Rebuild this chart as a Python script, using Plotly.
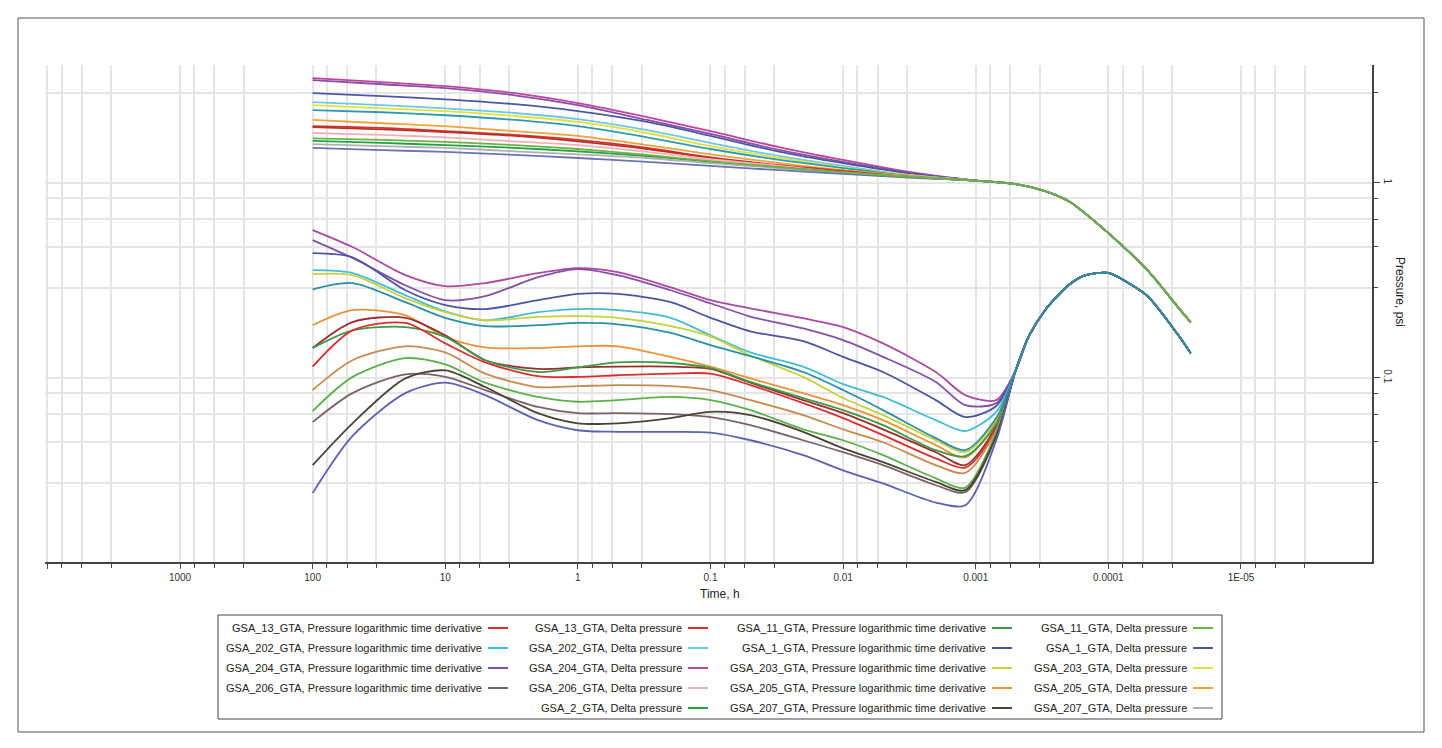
import plotly.graph_objects as go

# ---------------- data (time in h, pressure in psi) ----------------
T_DELTA = [100, 30, 10, 3, 1, 0.3, 0.1, 0.03, 0.01, 0.003]
T_DELTA_TAIL = [0.001, 0.0005, 0.0003, 0.0002, 0.0001, 5e-5, 3e-5, 2.4e-5]
DELTA_TAIL = [1.026, 0.985, 0.907, 0.806, 0.552, 0.352, 0.231, 0.193]

T_DERIV = [100, 50, 20, 10, 5, 2, 1, 0.5, 0.2, 0.1, 0.05, 0.02, 0.01, 0.005, 0.002, 0.0012, 0.0007]
T_DERIV_TAIL = [0.0005, 0.0004, 0.0003, 0.0002, 0.00015, 0.0001, 7e-5, 5e-5, 3e-5, 2.4e-5]
DERIV_TAIL = [0.109, 0.162, 0.222, 0.298, 0.335, 0.345, 0.305, 0.26, 0.167, 0.134]

# Delta pressure (upper family)
DP_GSA_204 = [3.44, 3.28, 3.13, 2.88, 2.56, 2.17, 1.84, 1.52, 1.31, 1.13]
DP_EXTRA_PURPLE = [3.36, 3.2, 3.06, 2.81, 2.5, 2.1, 1.78, 1.47, 1.28, 1.12]
DP_GSA_1 = [2.88, 2.78, 2.68, 2.53, 2.33, 2.05, 1.74, 1.44, 1.26, 1.11]
DP_GSA_202 = [2.59, 2.5, 2.41, 2.28, 2.12, 1.86, 1.6, 1.37, 1.22, 1.09]
DP_GSA_203 = [2.5, 2.41, 2.33, 2.2, 2.05, 1.8, 1.54, 1.34, 1.2, 1.09]
DP_EXTRA_TEAL = [2.36, 2.3, 2.22, 2.1, 1.95, 1.71, 1.49, 1.31, 1.19, 1.08]
DP_GSA_205 = [2.1, 2.02, 1.95, 1.84, 1.74, 1.56, 1.4, 1.26, 1.16, 1.08]
DP_GSA_13 = [1.95, 1.91, 1.84, 1.76, 1.66, 1.51, 1.35, 1.23, 1.15, 1.07]
DP_EXTRA_DARKRED = [1.93, 1.88, 1.82, 1.74, 1.63, 1.49, 1.34, 1.22, 1.13, 1.07]
DP_GSA_206 = [1.8, 1.76, 1.71, 1.63, 1.56, 1.44, 1.32, 1.22, 1.13, 1.07]
DP_GSA_11 = [1.69, 1.66, 1.62, 1.56, 1.49, 1.39, 1.29, 1.2, 1.13, 1.07]
DP_GSA_2 = [1.64, 1.6, 1.56, 1.51, 1.45, 1.37, 1.28, 1.2, 1.13, 1.07]
DP_GSA_207 = [1.58, 1.54, 1.51, 1.45, 1.4, 1.34, 1.26, 1.19, 1.12, 1.07]
DP_EXTRA_SLATE = [1.51, 1.47, 1.44, 1.39, 1.34, 1.28, 1.22, 1.16, 1.11, 1.06]

# Pressure logarithmic time derivative (lower family)
DV_EXTRA_MAGENTA = [0.572, 0.468, 0.336, 0.295, 0.306, 0.344, 0.365, 0.348, 0.291, 0.25, 0.227, 0.202, 0.182, 0.150, 0.107, 0.0815, 0.0768]
DV_GSA_204 = [0.508, 0.411, 0.298, 0.25, 0.262, 0.328, 0.361, 0.336, 0.281, 0.241, 0.206, 0.179, 0.156, 0.128, 0.0952, 0.0724, 0.0741]
DV_GSA_1 = [0.436, 0.415, 0.281, 0.236, 0.225, 0.25, 0.269, 0.269, 0.244, 0.203, 0.173, 0.154, 0.128, 0.107, 0.0768, 0.0628, 0.0716]
DV_GSA_202 = [0.356, 0.344, 0.265, 0.219, 0.197, 0.217, 0.225, 0.222, 0.203, 0.165, 0.135, 0.114, 0.0928, 0.0797, 0.0606, 0.0533, 0.0669]
DV_GSA_203 = [0.34, 0.336, 0.256, 0.217, 0.197, 0.205, 0.207, 0.203, 0.184, 0.163, 0.13, 0.101, 0.0787, 0.0643, 0.0478, 0.0415, 0.0606]
DV_EXTRA_TEAL = [0.284, 0.306, 0.244, 0.203, 0.184, 0.186, 0.191, 0.188, 0.17, 0.147, 0.129, 0.107, 0.0865, 0.0682, 0.049, 0.0425, 0.0621]
DV_GSA_205 = [0.186, 0.222, 0.209, 0.162, 0.143, 0.142, 0.145, 0.145, 0.128, 0.114, 0.0992, 0.0834, 0.0724, 0.0606, 0.0451, 0.039, 0.0592]
DV_EXTRA_DARKRED = [0.142, 0.193, 0.203, 0.165, 0.123, 0.111, 0.113, 0.114, 0.114, 0.111, 0.0943, 0.0768, 0.0658, 0.0544, 0.0415, 0.0356, 0.0565]
DV_GSA_11 = [0.142, 0.175, 0.182, 0.162, 0.123, 0.107, 0.113, 0.12, 0.119, 0.112, 0.0952, 0.0787, 0.0682, 0.0571, 0.0425, 0.0396, 0.0578]
DV_GSA_13 = [0.114, 0.175, 0.191, 0.15, 0.12, 0.102, 0.101, 0.103, 0.105, 0.105, 0.0917, 0.0741, 0.0621, 0.0508, 0.0386, 0.0346, 0.0544]
DV_EXTRA_TAN = [0.0865, 0.123, 0.145, 0.135, 0.105, 0.0896, 0.0906, 0.0917, 0.0906, 0.0865, 0.0768, 0.0643, 0.0544, 0.0467, 0.0356, 0.0325, 0.0538]
DV_EXTRA_GREEN = [0.0675, 0.101, 0.126, 0.117, 0.0943, 0.0797, 0.0753, 0.0768, 0.0797, 0.0768, 0.0682, 0.0544, 0.0478, 0.0401, 0.0305, 0.0273, 0.0523]
DV_GSA_206 = [0.0592, 0.0834, 0.104, 0.101, 0.0865, 0.0708, 0.0658, 0.0658, 0.065, 0.0628, 0.0571, 0.0478, 0.0415, 0.0356, 0.0281, 0.0259, 0.0503]
DV_GSA_207 = [0.0356, 0.0584, 0.0992, 0.109, 0.0896, 0.0658, 0.0584, 0.0584, 0.0621, 0.0669, 0.0643, 0.0528, 0.0434, 0.0369, 0.0292, 0.0265, 0.0503]
DV_EXTRA_BLUE = [0.0256, 0.0503, 0.0834, 0.0943, 0.0815, 0.0606, 0.0538, 0.0528, 0.0528, 0.0523, 0.0478, 0.0401, 0.0335, 0.0287, 0.0229, 0.0222, 0.0478]

# drawing order (last drawn shows on the shared tail)
DELTA_SERIES = [
    ("GSA_204_GTA, Delta pressure", "#c0449e", DP_GSA_204),
    (None, "#8a4ea6", DP_EXTRA_PURPLE),
    ("GSA_1_GTA, Delta pressure", "#4a58a6", DP_GSA_1),
    ("GSA_202_GTA, Delta pressure", "#6cc8e8", DP_GSA_202),
    ("GSA_203_GTA, Delta pressure", "#e2e03a", DP_GSA_203),
    (None, "#2e9cb0", DP_EXTRA_TEAL),
    ("GSA_205_GTA, Delta pressure", "#f2a238", DP_GSA_205),
    ("GSA_13_GTA, Delta pressure", "#dc3030", DP_GSA_13),
    (None, "#b83428", DP_EXTRA_DARKRED),
    ("GSA_206_GTA, Delta pressure", "#f2b0b8", DP_GSA_206),
    ("GSA_2_GTA, Delta pressure", "#24a044", DP_GSA_2),
    ("GSA_207_GTA, Delta pressure", "#b0b0b0", DP_GSA_207),
    (None, "#6a72b4", DP_EXTRA_SLATE),
    ("GSA_11_GTA, Delta pressure", "#6ab446", DP_GSA_11),
]

DERIV_SERIES = [
    (None, "#ac4aa0", DV_EXTRA_MAGENTA),
    ("GSA_204_GTA, Pressure logarithmic time derivative", "#8450a8", DV_GSA_204),
    ("GSA_1_GTA, Pressure logarithmic time derivative", "#4a55a2", DV_GSA_1),
    ("GSA_202_GTA, Pressure logarithmic time derivative", "#44bcd6", DV_GSA_202),
    ("GSA_203_GTA, Pressure logarithmic time derivative", "#c6d23a", DV_GSA_203),
    ("GSA_205_GTA, Pressure logarithmic time derivative", "#ea9436", DV_GSA_205),
    (None, "#9c2e2e", DV_EXTRA_DARKRED),
    ("GSA_11_GTA, Pressure logarithmic time derivative", "#3c9a48", DV_GSA_11),
    ("GSA_13_GTA, Pressure logarithmic time derivative", "#d83030", DV_GSA_13),
    (None, "#c88a4e", DV_EXTRA_TAN),
    (None, "#5cb04a", DV_EXTRA_GREEN),
    ("GSA_206_GTA, Pressure logarithmic time derivative", "#7c6464", DV_GSA_206),
    ("GSA_207_GTA, Pressure logarithmic time derivative", "#4a4438", DV_GSA_207),
    (None, "#5a62b2", DV_EXTRA_BLUE),
    (None, "#2a90a6", DV_EXTRA_TEAL),
]

# legend grid (as laid out in the reference, columns left -> right)
LEGEND_COLUMNS = [
    ["GSA_13_GTA, Pressure logarithmic time derivative",
     "GSA_202_GTA, Pressure logarithmic time derivative",
     "GSA_204_GTA, Pressure logarithmic time derivative",
     "GSA_206_GTA, Pressure logarithmic time derivative"],
    ["GSA_13_GTA, Delta pressure", "GSA_202_GTA, Delta pressure",
     "GSA_204_GTA, Delta pressure", "GSA_206_GTA, Delta pressure",
     "GSA_2_GTA, Delta pressure"],
    ["GSA_11_GTA, Pressure logarithmic time derivative",
     "GSA_1_GTA, Pressure logarithmic time derivative",
     "GSA_203_GTA, Pressure logarithmic time derivative",
     "GSA_205_GTA, Pressure logarithmic time derivative",
     "GSA_207_GTA, Pressure logarithmic time derivative"],
    ["GSA_11_GTA, Delta pressure", "GSA_1_GTA, Delta pressure",
     "GSA_203_GTA, Delta pressure", "GSA_205_GTA, Delta pressure",
     "GSA_207_GTA, Delta pressure"],
]

X_MAJOR = [1e4, 1000, 100, 10, 1, 0.1, 0.01, 0.001, 0.0001, 1e-5]
X_LABELS = ["", "1000", "100", "10", "1", "0.1", "0.01", "0.001", "0.0001", "1E-05"]
X_MINOR_FACTORS = [3.3, 5.5, 7.8]
Y_MAJOR = [0.01, 0.1, 1]
Y_LABELS = ["0.01", "0.1", "1"]
Y_MINOR_FACTORS = [2.9, 4.7, 6.5, 8.35]

# ---------------- layout geometry (pixels) ----------------
W, H = 1442, 748
PL, PR, PT, PB = 45, 1372, 65, 562
FONT = "Liberation Sans, Arial, sans-serif"


def px(x):
    return (x - PL) / (PR - PL)


def py(y):
    return (PB - y) / (PB - PT)


fig = go.Figure()
colors = {}
for name, color, vals in DELTA_SERIES:
    fig.add_trace(go.Scatter(
        x=T_DELTA + T_DELTA_TAIL, y=vals + DELTA_TAIL, mode="lines",
        line=dict(color=color, width=1.8, shape="spline", smoothing=0.8),
        name=name or "", showlegend=False))
    if name:
        colors[name] = color
for name, color, vals in DERIV_SERIES:
    fig.add_trace(go.Scatter(
        x=T_DERIV + T_DERIV_TAIL, y=vals + DERIV_TAIL, mode="lines",
        line=dict(color=color, width=1.8, shape="spline", smoothing=0.8),
        name=name or "", showlegend=False))
    if name:
        colors[name] = color

x_minor = [f * 10 ** k for k in range(-6, 5) for f in X_MINOR_FACTORS]
y_minor = [f * 10 ** k for k in range(-3, 1) for f in Y_MINOR_FACTORS]
grid = "#e5e5e5"

shapes = []
annotations = []

# outer frame
shapes.append(dict(type="rect", xref="paper", yref="paper",
                   x0=px(18), x1=px(1424), y0=py(732), y1=py(18),
                   line=dict(color="#555555", width=1), layer="below"))
# legend box
shapes.append(dict(type="rect", xref="paper", yref="paper",
                   x0=px(218), x1=px(1222), y0=py(719), y1=py(615),
                   line=dict(color="#444444", width=1)))
swatch_x = [488, 688, 992, 1193]
row_y = [628, 648, 668, 688, 708]
for col, sx in zip(LEGEND_COLUMNS, swatch_x):
    for r, nm in enumerate(col):
        yy = py(row_y[r])
        shapes.append(dict(type="line", xref="paper", yref="paper",
                           x0=px(sx), x1=px(sx + 20), y0=yy, y1=yy,
                           line=dict(color=colors[nm], width=2)))
        annotations.append(dict(xref="paper", yref="paper", x=px(sx - 4), y=yy,
                                xanchor="right", yanchor="middle", text=nm,
                                showarrow=False,
                                font=dict(family=FONT, size=11, color="#222222")))

annotations.append(dict(xref="paper", yref="paper", x=px(720), y=py(594),
                        text="Time, h", showarrow=False, xanchor="center",
                        yanchor="middle",
                        font=dict(family=FONT, size=12, color="#222222")))
annotations.append(dict(xref="paper", yref="paper", x=px(1400), y=py(292),
                        text="Pressure, psi", showarrow=False, textangle=90,
                        xanchor="center", yanchor="middle",
                        font=dict(family=FONT, size=12, color="#222222")))

fig.update_layout(
    width=W, height=H,
    margin=dict(l=PL, r=W - PR, t=PT, b=H - PB),
    paper_bgcolor="white", plot_bgcolor="white",
    showlegend=False,
    font=dict(family=FONT, size=10, color="#333333"),
    shapes=shapes, annotations=annotations,
    xaxis=dict(
        type="log", range=[4.018, -5.988], tickmode="array",
        tickvals=X_MAJOR, ticktext=X_LABELS, ticks="outside", ticklen=5,
        tickcolor="#444444", showgrid=True, gridcolor=grid, gridwidth=1.5,
        showline=True, linecolor="#444444", linewidth=1.5, zeroline=False,
        tickfont=dict(family=FONT, size=10, color="#333333"),
        minor=dict(tickmode="array", tickvals=x_minor, ticks="outside",
                   ticklen=4, tickcolor="#444444", showgrid=True,
                   gridcolor=grid, gridwidth=1.5),
    ),
    yaxis=dict(
        type="log", range=[-1.945, 0.604], side="right", tickmode="array",
        tickvals=Y_MAJOR, ticktext=Y_LABELS, tickangle=90, ticks="outside",
        ticklen=6, tickcolor="#444444", showgrid=True, gridcolor=grid,
        gridwidth=1.5, showline=True, linecolor="#444444", linewidth=1.5,
        zeroline=False,
        tickfont=dict(family=FONT, size=10, color="#333333"),
        minor=dict(tickmode="array", tickvals=y_minor, ticks="outside",
                   ticklen=4, tickcolor="#444444", showgrid=True,
                   gridcolor=grid, gridwidth=1.5),
    ),
)

fig.write_html("out.html")
